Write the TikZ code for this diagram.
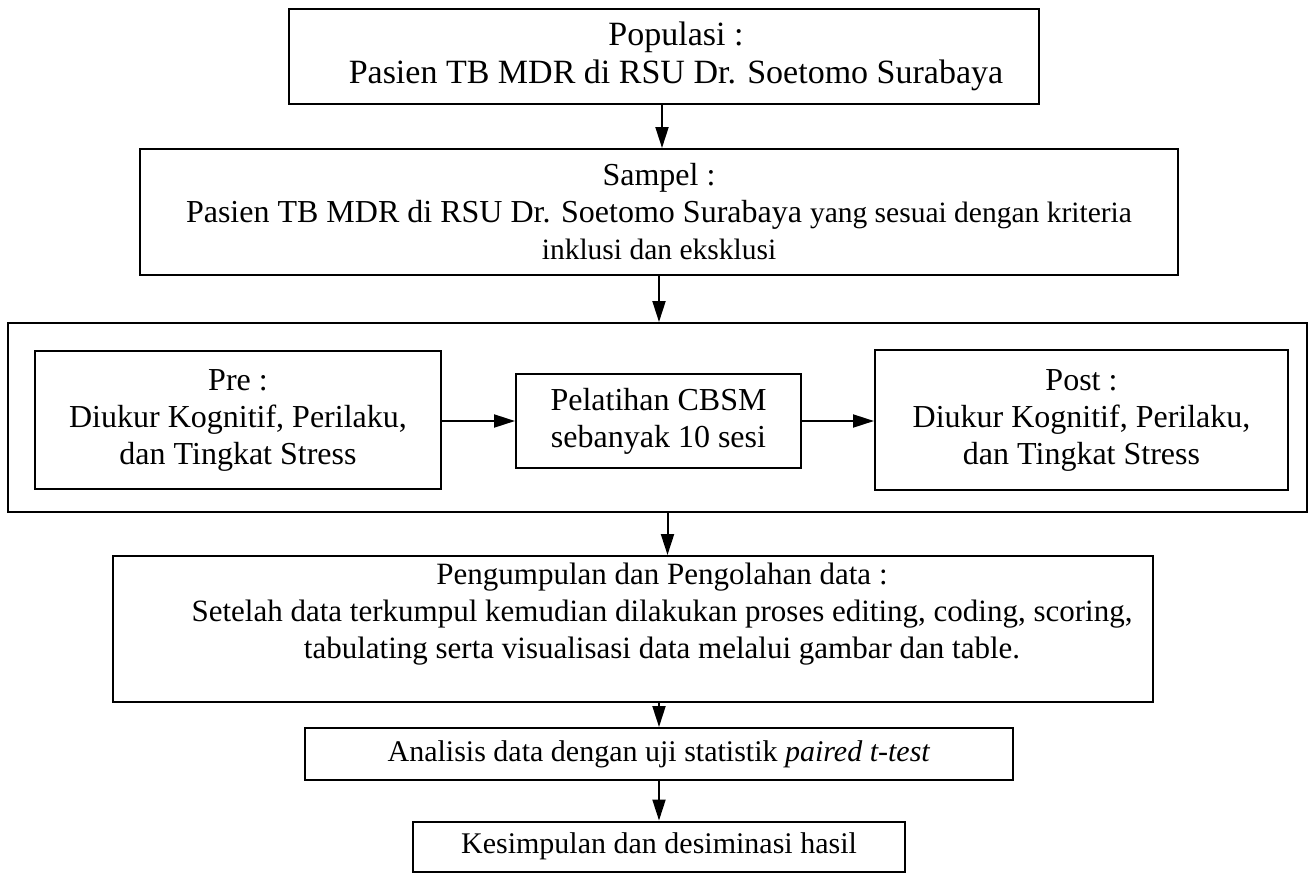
\documentclass[tikz,border=0pt]{standalone}
\usepackage{fontspec}
\setmainfont{Liberation Serif}
\usetikzlibrary{arrows.meta}
\newcommand\bigfs{\fontsize{32}{37}\selectfont}
\newcommand\popfs{\fontsize{34}{38}\selectfont}
\newcommand\smallfs{\fontsize{29.5}{37}\selectfont}
\newcommand\midfs{\fontsize{31}{37}\selectfont}
\newcommand\lowfs{\fontsize{30}{36}\selectfont}
\tikzset{
  box/.style={draw, line width=2pt, rectangle, inner sep=0pt, align=center, font=\bigfs},
  txt/.style={inner sep=0pt, align=center},
  arr/.style={line width=2pt, -{Triangle[length=21pt,width=13pt]}}
}
\begin{document}
\begin{tikzpicture}[x=1pt,y=-1pt]
\useasboundingbox (0,0) rectangle (1313,873);
% top boxes
\node[box, minimum width=750, minimum height=95] (pop) at (664,56) {};
\node[txt, font=\popfs] (poptxt) at (676,56)
  {Populasi :\\Pasien TB MDR di RSU Dr. Soetomo Surabaya};
\node[box, minimum width=1038, minimum height=126] (samp) at (659,212)
  {Sampel :\\Pasien TB MDR di RSU Dr. Soetomo Surabaya {\smallfs yang sesuai dengan kriteria}\\{\smallfs inklusi dan eksklusi}};
% container
\node[box, minimum width=1299, minimum height=189] (cont) at (657.5,417.5) {};
\node[box, minimum width=406, minimum height=138] (pre) at (238,420)
  {Pre :\\Diukur Kognitif, Perilaku,\\dan Tingkat Stress};
\node[box, minimum width=285, minimum height=94] (cbsm) at (658.5,421)
  {Pelatihan CBSM\\sebanyak 10 sesi};
\node[box, minimum width=413, minimum height=140] (post) at (1081.5,420)
  {Post :\\Diukur Kognitif, Perilaku,\\dan Tingkat Stress};
% lower boxes
\node[box, minimum width=1040, minimum height=146] (peng) at (633,629) {};
\node[txt, font=\midfs] (pengtxt) at (662,614)
  {Pengumpulan dan Pengolahan data :\\Setelah data terkumpul kemudian dilakukan proses editing, coding, scoring,\\tabulating serta visualisasi data melalui gambar dan table.};
\node[box, font=\lowfs, minimum width=708, minimum height=52] (anal) at (659,754)
  {Analisis data dengan uji statistik \textit{paired t-test}};
\node[box, font=\lowfs, minimum width=492, minimum height=50] (kes) at (659,846.5)
  {Kesimpulan dan desiminasi hasil};
% connectors
\draw[arr] ([xshift=-2pt]pop.south) -- ([xshift=-2pt]pop.south |- samp.north);
\draw[arr] (samp.south) -- (samp.south |- cont.north);
\draw[arr] (pre.east |- cbsm.west) -- (cbsm.west);
\draw[arr] (cbsm.east) -- (cbsm.east -| post.west);
\draw[arr] ([xshift=10pt]cont.south) -- ([xshift=10pt]cont.south |- peng.north);
\draw[arr] (anal.north |- peng.south) -- (anal.north);
\draw[arr] (anal.south) -- (kes.north);
\end{tikzpicture}
\end{document}
